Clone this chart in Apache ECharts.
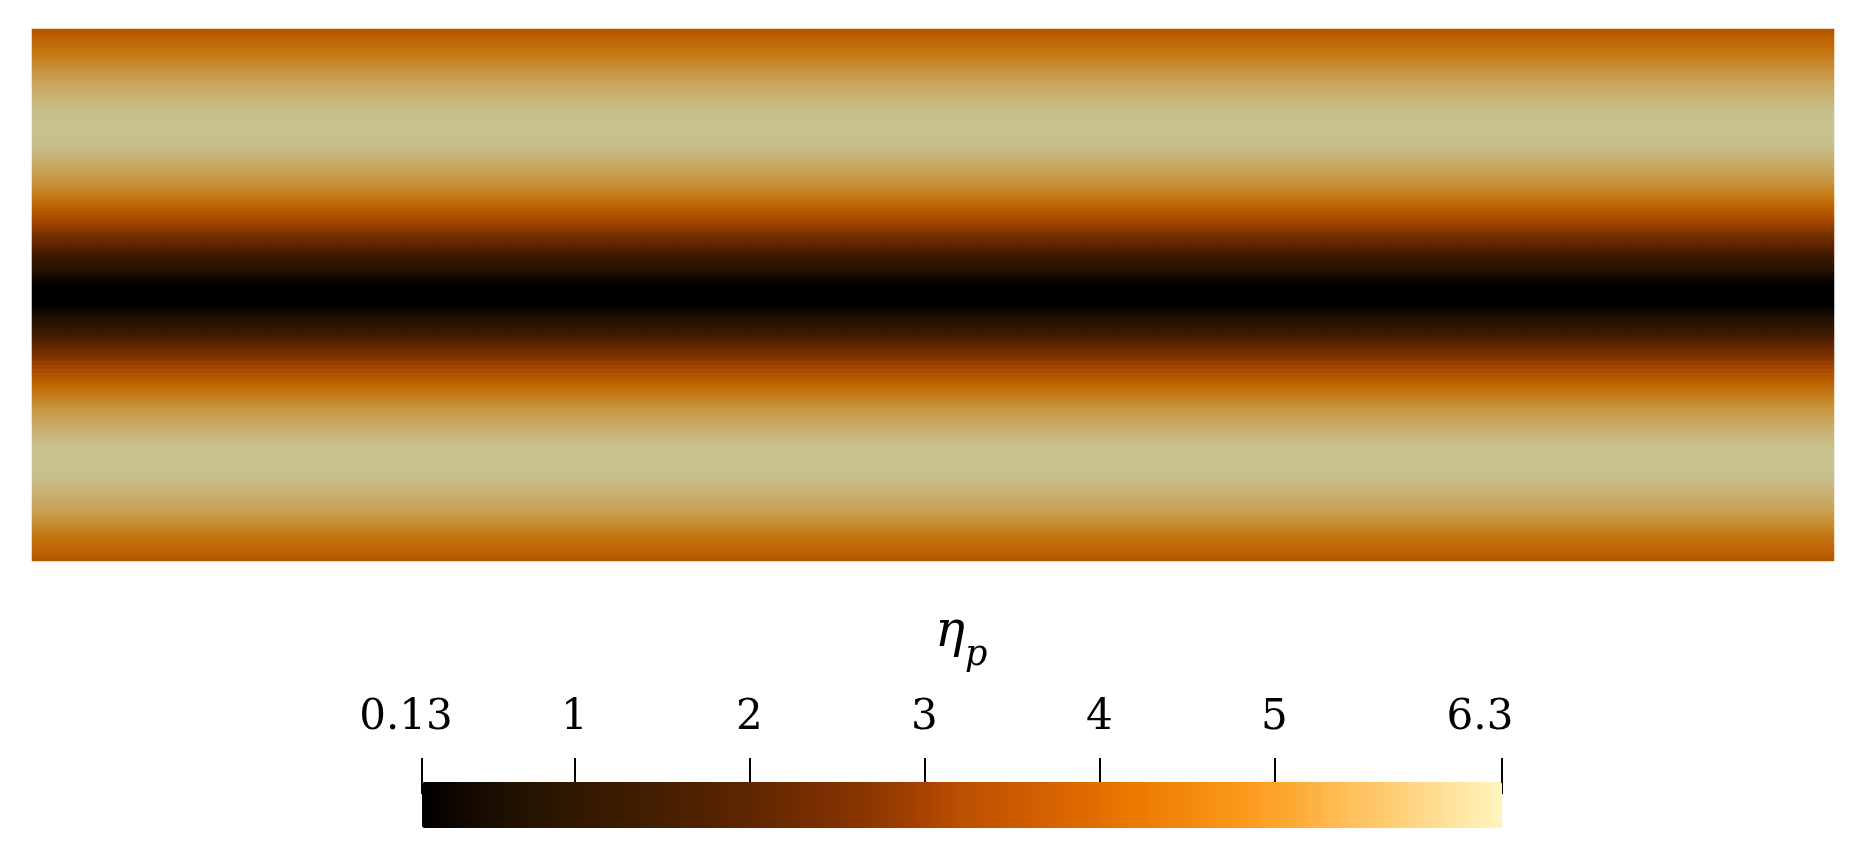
<!DOCTYPE html>
<html>
<head>
<meta charset="utf-8">
<title>eta_p</title>
<script src="https://cdn.jsdelivr.net/npm/echarts@6/dist/echarts.min.js"></script>
<style>
  html, body { margin: 0; padding: 0; background: #fff; }
  #main { width: 1873px; height: 866px; }
</style>
</head>
<body>
<div id="main"></div>
<script>
// 每一行的 eta_p 值（从上到下），横向基本不变
const rowValues = [
  4.05, 4.18, 4.33, 4.47, 4.6, 4.72, 4.85, 5.0, 5.12, 5.25, 5.38, 5.5, 5.62, 5.72, 5.8, 5.87,
  5.95, 6.02, 6.1, 6.18, 6.25, 6.28, 6.3, 6.3, 6.3, 6.3, 6.3, 6.3, 6.27, 6.22, 6.15, 6.06,
  5.97, 5.88, 5.78, 5.68, 5.58, 5.47, 5.35, 5.2, 5.05, 4.9, 4.7, 4.5, 4.3, 4.1, 3.9, 3.7,
  3.45, 3.25, 3.05, 2.85, 2.7, 2.5, 2.3, 2.05, 1.75, 1.5, 1.3, 1.1, 0.85, 0.6, 0.4, 0.2,
  0.13, 0.13, 0.13,
  0.13, 0.13, 0.2, 0.4, 0.6, 0.85, 1.1, 1.3, 1.5, 1.75, 2.05, 2.3, 2.5, 2.7, 2.85, 3.05,
  3.25, 3.45, 3.7, 3.9, 4.1, 4.3, 4.5, 4.7, 4.9, 5.05, 5.2, 5.35, 5.47, 5.58, 5.68, 5.78,
  5.88, 5.97, 6.06, 6.15, 6.22, 6.27, 6.3, 6.3, 6.3, 6.3, 6.3, 6.3, 6.28, 6.25, 6.18, 6.1,
  6.02, 5.95, 5.87, 5.8, 5.72, 5.62, 5.5, 5.38, 5.25, 5.12, 5.0, 4.85, 4.72, 4.6, 4.47, 4.33,
  4.18, 4.05
];
const colCount = 53;

// 色标范围和刻度
const valueMin = 0.13;
const valueMax = 6.3;
const tickValues = [0.13, 1, 2, 3, 4, 5, 6.3];

// 色标颜色（亮），图中颜色有光照所以偏暗
const barColors = [
  '#000000', '#160a00', '#241400', '#341900', '#401d00', '#4e2100', '#5e2600',
  '#722c00', '#863400', '#a03e00', '#bc5000', '#cc5a00', '#dc6600', '#ea7600',
  '#f38608', '#f99616', '#fca830', '#febc54', '#ffcf74', '#ffe29c', '#fff6bc'
];
const plotColors = [
  '#000000', '#110800', '#1c1000', '#291400', '#321700', '#3d1a00', '#4a1e00',
  '#592300', '#692900', '#7d3100', '#933e00', '#a04600', '#ac5000', '#b75c00',
  '#be6906', '#c37511', '#c68424', '#c7933f', '#c8a257', '#c8b175', '#c8c08d'
];

const xCats = [];
for (let i = 0; i < colCount; i++) xCats.push(String(i));
const yCats = rowValues.map((v, i) => String(i));

const cells = [];
for (let c = 0; c < colCount; c++) {
  for (let r = 0; r < rowValues.length; r++) {
    cells.push([c, r, rowValues[r]]);
  }
}

const labelFont = 'DejaVu Serif';

const myChart = echarts.init(document.getElementById('main'), null, { renderer: 'canvas' });
myChart.setOption({
  animation: false,
  backgroundColor: '#ffffff',
  grid: [
    { left: 32, top: 29, width: 1802, height: 532 },
    { left: 422, top: 793, width: 1080, height: 1 }
  ],
  xAxis: [
    { type: 'category', data: xCats, show: false, gridIndex: 0 },
    {
      type: 'value',
      gridIndex: 1,
      min: valueMin,
      max: valueMax,
      position: 'top',
      axisLine: { show: false },
      splitLine: { show: false },
      axisTick: {
        show: true,
        customValues: tickValues,
        length: 36,
        lineStyle: { color: '#000', width: 2 }
      },
      axisLabel: {
        show: true,
        customValues: tickValues,
        margin: 54,
        color: '#000',
        fontFamily: labelFont,
        fontSize: 42,
        formatter: function (v) {
          if (v === valueMin) return '{a|' + v + '}';
          if (v === valueMax) return '{b|' + v + '}';
          return String(v);
        },
        rich: {
          a: { fontFamily: labelFont, fontSize: 42, color: '#000', padding: [0, 32, 0, 0] },
          b: { fontFamily: labelFont, fontSize: 42, color: '#000', padding: [0, 44, 0, 0] }
        }
      }
    }
  ],
  yAxis: [
    { type: 'category', data: yCats, inverse: true, show: false, gridIndex: 0 },
    { type: 'value', gridIndex: 1, show: false }
  ],
  visualMap: [
    {
      type: 'continuous',
      show: false,
      seriesIndex: 0,
      min: valueMin,
      max: valueMax,
      inRange: { color: plotColors }
    },
    {
      type: 'continuous',
      show: true,
      seriesIndex: 1,
      orient: 'horizontal',
      left: 422,
      top: 782,
      padding: 0,
      itemWidth: 46,
      itemHeight: 1080,
      calculable: false,
      min: valueMin,
      max: valueMax,
      inRange: { color: barColors }
    }
  ],
  graphic: [
    {
      type: 'text',
      style: { text: 'η', x: 935, y: 633, font: 'italic 50px "DejaVu Serif"', fill: '#000', verticalAlign: 'middle' }
    },
    {
      type: 'text',
      style: { text: 'p', x: 965, y: 656, font: 'italic 35px "DejaVu Serif"', fill: '#000', verticalAlign: 'middle' }
    }
  ],
  series: [
    {
      type: 'heatmap',
      xAxisIndex: 0,
      yAxisIndex: 0,
      data: cells,
      progressive: 0,
      itemStyle: { borderWidth: 0 },
      emphasis: { disabled: true }
    },
    {
      type: 'scatter',
      xAxisIndex: 1,
      yAxisIndex: 1,
      data: []
    }
  ]
});
</script>
</body>
</html>
